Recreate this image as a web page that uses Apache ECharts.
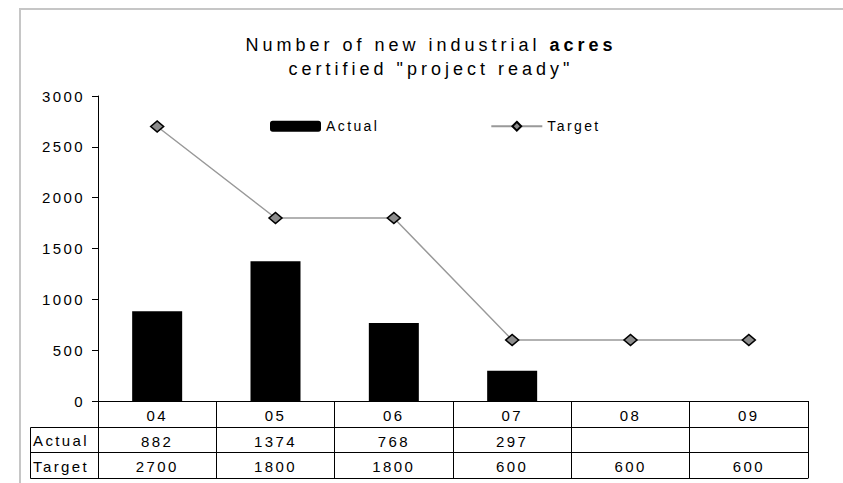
<!DOCTYPE html>
<html>
<head>
<meta charset="utf-8">
<title>New industrial acres</title>
<script src="https://cdn.jsdelivr.net/npm/echarts@6/dist/echarts.min.js"></script>
<style>
  html, body { margin: 0; background: #fff; overflow: hidden; }
  #chart { width: 843px; height: 483px; }
  /* the original text is widely tracked, the title even more */
  #chart svg text { letter-spacing: 2.4px; }
  #chart svg text[style*="18px"] { letter-spacing: 4px; }
</style>
</head>
<body>
<div id="chart"></div>
<script>
const years = ['04', '05', '06', '07', '08', '09']
const actual = [882, 1374, 768, 297, null, null]
const target = [2700, 1800, 1800, 600, 600, 600]
const rowNames = ['Actual', 'Target']
const yTicks = { min: 0, max: 3000, interval: 500 }

const FONT = '"Liberation Sans", Arial, sans-serif'

// measure text with the same tracking the svg text gets from css
const spacingFor = (font) => (/\b18px/.test(font) ? 4 : 2.4)
const measureCtx = document.createElement('canvas').getContext('2d')
echarts.setPlatformAPI({
  measureText(text, font) {
    measureCtx.font = font
    return { width: measureCtx.measureText(text).width + spacingFor(font) * text.length }
  }
})

const chart = echarts.init(document.getElementById('chart'), null, { renderer: 'svg' })

const cellLabel = (row) => ({
  interval: 0,
  color: '#000',
  fontFamily: FONT,
  fontSize: 15,
  margin: 6,
  formatter: (v, i) => (row[i] == null ? '' : String(row[i]))
})

const tableAxis = (offset, row) => ({
  type: 'category',
  data: years,
  position: 'bottom',
  offset: offset,
  boundaryGap: true,
  axisLine: { show: true, lineStyle: { color: '#000', width: 1 } },
  axisTick: { show: false },
  axisLabel: row ? cellLabel(row) : { show: false }
})

const option = {
  backgroundColor: '#fff',
  animation: false,
  textStyle: { fontFamily: FONT, color: '#000' },
  title: {
    text: 'Number of new industrial {b|acres}\ncertified "project ready"',
    left: 431,
    top: 33,
    padding: 0,
    textAlign: 'center',
    textStyle: {
      fontFamily: FONT,
      fontSize: 18,
      fontWeight: 'normal',
      color: '#000',
      lineHeight: 24,
      rich: {
        b: { fontFamily: FONT, fontSize: 18, fontWeight: 'bold', color: '#000', lineHeight: 24 }
      }
    }
  },
  legend: {
    left: 270,
    top: 118,
    padding: 0,
    itemWidth: 51,
    itemHeight: 11,
    itemGap: 111,
    textStyle: { fontFamily: FONT, fontSize: 14, color: '#000' },
    data: ['Actual', 'Target']
  },
  grid: { left: 98, right: 35, top: 96, bottom: 82, containLabel: false },
  xAxis: [
    {
      type: 'category',
      data: years,
      position: 'bottom',
      boundaryGap: true,
      axisLine: { show: true, lineStyle: { color: '#000', width: 1 } },
      // ticks at category borders form the table's column lines
      axisTick: { show: true, interval: 0, length: 77, lineStyle: { color: '#000', width: 1 } },
      axisLabel: {
        interval: 0,
        color: '#000',
        fontFamily: FONT,
        fontSize: 15,
        margin: 6
      }
    },
    tableAxis(26, actual),
    tableAxis(51, target),
    tableAxis(77, null)
  ],
  yAxis: {
    type: 'value',
    min: yTicks.min,
    max: yTicks.max,
    interval: yTicks.interval,
    axisLine: { show: true, lineStyle: { color: '#000', width: 1 } },
    axisTick: { show: true, inside: false, length: 6, lineStyle: { color: '#000', width: 1 } },
    axisLabel: {
      color: '#000',
      fontFamily: FONT,
      fontSize: 15,
      margin: 13,
      formatter: (v) => String(v)
    },
    splitLine: { show: false }
  },
  graphic: [
    // grey frame, only its left and top edges are in view
    {
      type: 'line',
      silent: true,
      z: -10,
      shape: { x1: 20, y1: 9, x2: 843, y2: 9 },
      style: { stroke: '#c6c6c6', lineWidth: 2 }
    },
    {
      type: 'line',
      silent: true,
      z: -10,
      shape: { x1: 20, y1: 8, x2: 20, y2: 483 },
      style: { stroke: '#c6c6c6', lineWidth: 2 }
    },
    {
      type: 'rect',
      silent: true,
      shape: { x: 30.5, y: 427.5, width: 68, height: 51 },
      style: { fill: 'none', stroke: '#000', lineWidth: 1 }
    },
    {
      type: 'line',
      silent: true,
      shape: { x1: 30.5, y1: 452.5, x2: 98.5, y2: 452.5 },
      style: { stroke: '#000', lineWidth: 1 }
    },
    {
      type: 'text',
      silent: true,
      x: 33,
      y: 440,
      style: { text: rowNames[0], font: '15px ' + FONT, fill: '#000', verticalAlign: 'middle' }
    },
    {
      type: 'text',
      silent: true,
      x: 33,
      y: 466,
      style: { text: rowNames[1], font: '15px ' + FONT, fill: '#000', verticalAlign: 'middle' }
    }
  ],
  series: [
    {
      name: 'Actual',
      type: 'bar',
      xAxisIndex: 0,
      data: actual,
      barWidth: 50,
      itemStyle: { color: '#000' }
    },
    {
      name: 'Target',
      type: 'line',
      xAxisIndex: 0,
      data: target,
      symbol: 'diamond',
      symbolSize: [13, 11],
      lineStyle: { color: '#999', width: 1.5 },
      itemStyle: { color: '#8c8c8c', borderColor: '#000', borderWidth: 1.5 }
    }
  ]
}

chart.setOption(option)
</script>
</body>
</html>
